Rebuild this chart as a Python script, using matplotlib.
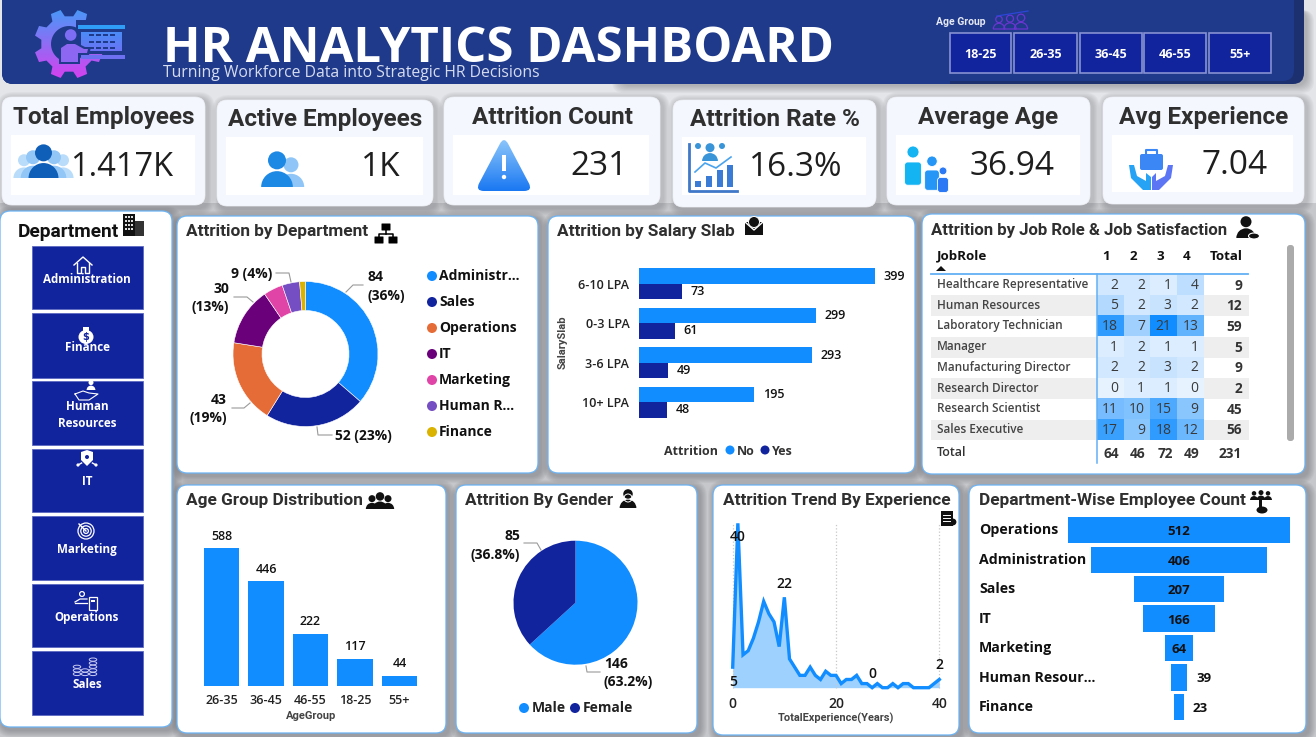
import numpy as np
import matplotlib
matplotlib.use("Agg")
import matplotlib.pyplot as plt
from matplotlib.colors import LinearSegmentedColormap
from matplotlib.patches import Circle, Ellipse, FancyBboxPatch, PathPatch, Polygon, Rectangle, Wedge
from matplotlib.path import Path

W, H = 1316, 737
BLUE = "#118dff"
NAVY = "#12239e"
HEADER = "#1f3a8a"
DARK = "#2f2f2f"
TITLE_FONT = ["Roboto", "DejaVu Sans"]
BODY_FONT = ["Open Sans", "DejaVu Sans"]

kpi_titles = ["Total Employees", "Active Employees", "Attrition Count", "Attrition Rate %", "Average Age", "Avg Experience"]
kpi_values = ["1.417K", "1K", "231", "16.3%", "36.94", "7.04"]
age_slicer = ["18-25", "26-35", "36-45", "46-55", "55+"]
dept_buttons = ["Administration", "Finance", "Human\nResources", "IT", "Marketing", "Operations", "Sales"]

dept_names = ["Administr...", "Sales", "Operations", "IT", "Marketing", "Human R...", "Finance"]
dept_attr = [84, 52, 43, 30, 10, 9, 3]
dept_colors = [BLUE, NAVY, "#e66c37", "#6b007b", "#e044a7", "#744ec2", "#d9b300"]

salary_slabs = ["6-10 LPA", "0-3 LPA", "3-6 LPA", "10+ LPA"]
salary_no = [399, 299, 293, 195]
salary_yes = [73, 61, 49, 48]

job_roles = ["Healthcare Representative", "Human Resources", "Laboratory Technician", "Manager",
             "Manufacturing Director", "Research Director", "Research Scientist", "Sales Executive"]
job_sat = np.array([[2, 2, 1, 4], [5, 2, 3, 2], [18, 7, 21, 13], [1, 2, 1, 1],
                    [2, 2, 3, 2], [0, 1, 1, 0], [11, 10, 15, 9], [17, 9, 18, 12]])
job_total = [9, 12, 59, 5, 9, 2, 45, 56]
sat_total = [64, 46, 72, 49]

age_groups = ["26-35", "36-45", "46-55", "18-25", "55+"]
age_counts = [588, 446, 222, 117, 44]

gender_names = ["Male", "Female"]
gender_counts = [146, 85]

exp_years = list(range(41))
exp_attr = [5, 40, 8, 9, 12, 16, 21, 18, 16, 10, 22, 7, 5, 3, 3, 5, 3, 2, 4, 3, 3,
            1, 2, 2, 3, 1, 1, 0, 1, 0, 0, 1, 0, 1, 1, 0, 0, 0, 0, 1, 2]

funnel_names = ["Operations", "Administration", "Sales", "IT", "Marketing", "Human Resour...", "Finance"]
funnel_counts = [512, 406, 207, 166, 64, 39, 23]


def px_axes(x0, y0, x1, y1):
    ax = fig.add_axes([x0 / W, 1 - y1 / H, (x1 - x0) / W, (y1 - y0) / H])
    ax.patch.set_alpha(0)
    return ax


def label(x, y, s, size, color=DARK, weight="normal", ha="center", va="center", font=BODY_FONT, **kw):
    return bg.text(x, y, s, fontsize=size, color=color, weight=weight, ha=ha, va=va, family=font, **kw)


def rbox(x0, y0, x1, y1, r, color, ec="none", lw=0, z=1, alpha=1):
    p = FancyBboxPatch((x0 + r, y0 + r), x1 - x0 - 2 * r, y1 - y0 - 2 * r, boxstyle=f"round,pad={r},rounding_size={r}",
                       fc=color, ec=ec, lw=lw, zorder=z, alpha=alpha)
    bg.add_patch(p)
    return p


def card(x0, y0, x1, y1, color="white", ec="#6cb3f4", r=10, lw=0.9, shade=0.06):
    for i in range(7, 0, -1):
        rbox(x0 + 2 - i, y0 + 2 - i, x1 + 3 + i, y1 + 3 + i, r + i, "#55565c", z=1, alpha=shade)
    rbox(x0, y0, x1, y1, r, color, ec=ec, lw=lw, z=2)


def gradient(path, top, bottom, z=5):
    x0, y0 = path.vertices.min(axis=0)
    x1, y1 = path.vertices.max(axis=0)
    cmap = LinearSegmentedColormap.from_list("g", [top, bottom])
    im = bg.imshow(np.linspace(0, 1, 64).reshape(-1, 1), cmap=cmap, extent=(x0, x1, y1, y0),
                   aspect="auto", zorder=z)
    im.set_clip_path(PathPatch(path, transform=bg.transData))
    bg.set_xlim(0, W)
    bg.set_ylim(H, 0)


def rounded(pts, r):
    pts = np.array(pts, float)
    verts, codes = [], []
    for i, p in enumerate(pts):
        a = p + (pts[i - 1] - p) / np.linalg.norm(pts[i - 1] - p) * r
        nxt = pts[(i + 1) % len(pts)]
        b = p + (nxt - p) / np.linalg.norm(nxt - p) * r
        verts += [a, p, b]
        codes += [Path.MOVETO if i == 0 else Path.LINETO, Path.CURVE3, Path.CURVE3]
    verts.append(verts[0])
    codes.append(Path.CLOSEPOLY)
    return Path(verts, codes)


def person(x, y, s, color, z=5, outline=False):
    # head and shoulders, y is the base of the figure
    fc = "none" if outline else color
    ec = color if outline else "none"
    bg.add_patch(Circle((x, y - s * 0.74), s * 0.25, fc=fc, ec=ec, lw=0.9, zorder=z))
    bg.add_patch(Wedge((x, y), s * 0.44, 180, 360, fc=fc, ec=ec, lw=0.9, zorder=z))


def standing(x, top, h, color, z=5):
    bg.add_patch(Circle((x, top + h * 0.15), h * 0.15, fc=color, ec="white", lw=0.6, zorder=z))
    w = h * 0.21
    bg.add_patch(FancyBboxPatch((x - w, top + h * 0.4), 2 * w, h * 0.58, boxstyle="round,pad=0,rounding_size=3",
                                fc=color, ec="white", lw=0.6, zorder=z))


def group(xs, y, sizes, colors, z=5):
    for i, (x, s, c) in enumerate(zip(xs, sizes, colors)):
        person(x, y, s, c, z + i)


def house(x, y, c="white"):
    bg.plot([x - 9, x, x + 9], [y, y - 8, y], color=c, lw=1, zorder=6)
    bg.plot([x - 6, x - 6, x - 2, x - 2, x + 2, x + 2, x + 6, x + 6],
            [y - 2, y + 8, y + 8, y + 2, y + 2, y + 8, y + 8, y - 2], color=c, lw=1, zorder=6)


def bag(x, y):
    bg.add_patch(Ellipse((x, y + 2), 15, 14, fc="white", zorder=6))
    bg.add_patch(Rectangle((x - 3, y - 8), 6, 5, fc="white", zorder=6))
    bg.text(x, y + 2, "$", color=NAVY, fontsize=7, weight="bold", ha="center", va="center", zorder=7)


def hand(x, y):
    person(x + 4, y - 2, 10, "white", 6)
    bg.plot([x - 12, x - 4, x + 2, x + 11, x + 2, x - 8, x - 12], [y + 2, y - 1, y + 1, y + 2, y + 8, y + 8, y + 2],
            color="white", lw=0.8, zorder=6)


def shield(x, y):
    bg.add_patch(Polygon([(x - 6, y - 8), (x, y - 10), (x + 6, y - 8), (x + 6, y), (x, y + 6), (x - 6, y)],
                         fc="white", zorder=6))
    bg.add_patch(Circle((x, y - 3), 2, fc=NAVY, zorder=7))
    for dx in (-9, 9):
        bg.plot([x + dx * 0.6, x + dx], [y + 3, y + 5], color="white", lw=1, zorder=6)
        bg.add_patch(Circle((x + dx, y + 5), 1.6, fc="white", zorder=6))


def target(x, y):
    for r in (8, 5.2, 2.4):
        bg.add_patch(Circle((x, y), r, fc="none", ec="white", lw=0.9, zorder=6))
    bg.plot([x - 7, x], [y - 7, y], color="white", lw=1, zorder=6)


def badge(x, y):
    bg.add_patch(Circle((x - 6, y - 7), 2.4, fc="none", ec="white", lw=0.9, zorder=6))
    bg.plot([x - 13, x - 8, x - 1], [y + 1, y - 2, y - 2], color="white", lw=0.9, zorder=6)
    bg.plot([x - 13, x - 1], [y + 2, y + 2], color="white", lw=0.9, zorder=6)
    bg.add_patch(Rectangle((x + 1, y - 4), 8, 13, fc="none", ec="white", lw=0.9, zorder=6))
    bg.add_patch(Rectangle((x + 3, y - 1), 4, 2, fc="white", zorder=6))


def coins(x, y):
    for dx, n in ((-8, 3), (0, 2), (8, 5)):
        for k in range(n):
            bg.add_patch(Ellipse((x + dx, y + 8 - k * 3.6), 7.5, 3.2, fc=NAVY, ec="#c8cdf0", lw=0.7, zorder=6 + k))


def building(x, y):
    bg.add_patch(Rectangle((x, y), 12, 22, fc="#111", zorder=6))
    bg.add_patch(Rectangle((x + 12, y + 7), 9, 15, fc="#333", zorder=6))
    for cx in (2, 5, 8):
        for cy in (2, 6, 10, 14):
            bg.add_patch(Rectangle((x + cx, y + cy), 2, 2, fc="#ddd", zorder=7))


def org(x, y):
    for bx, by in ((x + 7, y), (x, y + 13), (x + 14, y + 13)):
        bg.add_patch(FancyBboxPatch((bx, by), 8, 6, boxstyle="round,pad=0.5", fc="black", ec="none", zorder=6))
    bg.plot([x + 4, x + 4, x + 18, x + 18], [y + 13, y + 9.5, y + 9.5, y + 13], color="black", lw=1.1, zorder=6)
    bg.plot([x + 11, x + 11], [y + 6, y + 10], color="black", lw=1.1, zorder=6)


def gear_path(cx, cy, ro, ri, hole, n=8):
    pts = []
    for k in range(n):
        a = 2 * np.pi * k / n + np.pi / 8
        for da, r in ((-0.24, ri), (-0.15, ro), (0.15, ro), (0.24, ri)):
            pts.append((cx + r * np.cos(a + da), cy + r * np.sin(a + da)))
    pts.append(pts[0])
    t = np.linspace(2 * np.pi, 0, 50)
    hole_pts = np.column_stack([cx + hole * np.cos(t), cy + hole * np.sin(t)])
    verts = np.vstack([pts, hole_pts])
    codes = [Path.MOVETO] + [Path.LINETO] * (len(pts) - 2) + [Path.CLOSEPOLY]
    codes += [Path.MOVETO] + [Path.LINETO] * (len(hole_pts) - 2) + [Path.CLOSEPOLY]
    return Path(verts, codes)


fig = plt.figure(figsize=(W / 100, H / 100), dpi=100, facecolor="#e4e5e9")
bg = fig.add_axes([0, 0, 1, 1])
bg.set_xlim(0, W)
bg.set_ylim(H, 0)
bg.axis("off")
bg.add_patch(Rectangle((0, 203), W, H - 203, fc="#c6c7cb", ec="none", zorder=0))

# header
for i in range(8, 0, -1):
    rbox(620 - i, 10, 1306 + i, 85 + i, 12, "#55565c", z=1, alpha=0.05)
rbox(2, -15, 1304, 84, 11, "#1c2f6f", z=2)
rbox(2, -15, 1294, 81, 11, HEADER, z=2)
rbox(2, -15, 300, 84, 11, HEADER, z=2)
bg.add_patch(Rectangle((250, 0), 700, 84, fc=HEADER, zorder=2))
gradient(gear_path(69, 44, 35, 28, 18), "#4a97f8", "#d541f0")
bg.add_patch(Polygon([(76, 20), (104, 20), (104, 54), (76, 54)], fc=HEADER, zorder=6))
bg.add_patch(Rectangle((78, 25), 47, 4, fc="#2f9cf6", zorder=7))
bg.add_patch(Rectangle((81, 55), 44, 4, fc="#6e70f2", zorder=7))
gradient(Path([(81, 32), (122, 32), (122, 51), (81, 51), (81, 32)]), "#4a8cf8", "#6a73f4", z=7)
for cy in (34, 41, 47):
    for cx in (89, 96, 103, 110):
        bg.add_patch(Rectangle((cx, cy), 5, 2, fc=HEADER, zorder=8))
bg.add_patch(Circle((70.7, 35), 7.4, fc=HEADER, zorder=8))
bg.add_patch(Circle((70.7, 35), 5.8, fc="#7d6cf4", zorder=9))
bg.add_patch(Polygon([(59, 64), (59, 47), (66, 42), (75, 42), (85, 47), (91, 47), (89, 55), (80, 55), (80, 64)], fc=HEADER, zorder=8))
bg.add_patch(Polygon([(61, 62), (61, 48), (67, 44), (75, 44), (84, 49), (88, 49), (87, 53), (78, 53), (78, 62)], fc="#8d66f2", zorder=9))
label(163, 49, "HR ANALYTICS DASHBOARD", 35.4, "white", "bold", ha="left", zorder=9)
label(163, 73, "Turning Workforce Data into Strategic HR Decisions", 11.35, "#d6dcf0", ha="left", zorder=9)
label(936, 22, "Age Group", 7.5, "#e6e9f7", "bold", ha="left", font=TITLE_FONT, zorder=9)
for px, s in zip([999, 1010, 1021], [13, 14, 15]):
    person(px, 29, s, "#6a35d0", z=7, outline=True)
bg.plot([997, 1028], [16, 11], color="#2b47d8", lw=0.9, zorder=7)
slicer_x = [950, 1014, 1080, 1144, 1209]
slicer_w = [61, 63, 62, 62, 62]
for sx, sw, s in zip(slicer_x, slicer_w, age_slicer):
    bg.add_patch(Rectangle((sx, 33), sw, 40, fc=NAVY, ec="#8791d2", lw=1.2, zorder=4))
    label(sx + sw / 2, 54, s, 9, "white", "bold", zorder=6)

# kpi cards
kpi_box = [(2, 97, 205, 205), (217, 100, 433, 206), (444, 97, 660, 205), (673, 100, 876, 207), (887, 97, 1090, 205), (1103, 97, 1304, 204)]
kpi_inner = [(11, 135, 195, 195), (226, 137, 423, 195), (453, 135, 649, 195), (682, 137, 866, 195), (896, 135, 1080, 195), (1112, 135, 1293, 192)]
kpi_value_x = [122, 381, 599, 796, 1012, 1235]
kpi_value_y = [168, 168.5, 167.5, 168.5, 167, 166.5]
kpi_sizes = [23.5, 24, 24, 24, 24, 24]
for box, inner, t, v, vx, vy, vs in zip(kpi_box, kpi_inner, kpi_titles, kpi_values, kpi_value_x, kpi_value_y, kpi_sizes):
    card(*box, color="#f4f7fe", ec="#f0f2f8", r=10, lw=0.5, shade=0.045)
    bg.add_patch(Rectangle(inner[:2], inner[2] - inner[0], inner[3] - inner[1], fc="white", zorder=3))
    label((box[0] + box[2]) / 2, inner[1] - 18, t, 17.5, DARK, "bold", font=TITLE_FONT, zorder=5)
    label(vx, vy - 1, v, vs, "#1e1e1e", "medium", zorder=5)

group([24, 63, 33, 54, 43.5], 178, [24, 24, 28, 28, 34], ["#b9dcfb", "#b9dcfb", "#91c6f7", "#91c6f7", "#0f5fb8"])
group([291, 277], 187, [30, 36], ["#8fc6f7", "#1e88e5"])
gradient(rounded([(504, 136), (533, 191), (475, 191)], 9), "#93cbfb", "#1a78f2")
bg.add_patch(Rectangle((502.3, 155), 3.4, 16, fc="white", zorder=7))
bg.add_patch(Circle((504, 177), 2.2, fc="white", zorder=7))
bg.plot([689, 689, 737], [144, 191, 191], color="#3f78c8", lw=2, zorder=6)
bars_x, bars_h = [695, 706, 717, 727], [6, 11, 17, 22]
for bx, bh in zip(bars_x, bars_h):
    bg.add_patch(Rectangle((bx, 187 - bh), 6, bh, fc="#3a7bd5", zorder=6))
bg.plot([695, 705, 716, 731], [172, 163, 168, 157], color="#4aa3ee", lw=1.2, zorder=6)
person(710, 161, 18, "#3a94d8", 6)
bg.add_patch(Circle((698, 146), 3, fc="#3a94d8", zorder=6))
bg.add_patch(Circle((722, 146), 3, fc="#3a94d8", zorder=6))
standing(913, 146, 40, "#14b3f2", 6)
standing(932, 156, 35, "#2596f5", 7)
standing(943, 167, 26, "#2b79f5", 8)
bg.add_patch(FancyBboxPatch((1140, 154), 23, 16, boxstyle="round,pad=0,rounding_size=2", fc="#3b87f5", ec="none", zorder=6))
bg.plot([1146, 1146, 1157, 1157], [154, 150, 150, 154], color="#3b87f5", lw=1.5, zorder=6)
bg.add_patch(Polygon([(1129, 165), (1134, 165), (1137, 176), (1146, 181), (1146, 173), (1151, 177), (1151, 190), (1143, 190), (1131, 178)], fc="#27a3f5", zorder=6))
bg.add_patch(Polygon([(1173, 165), (1168, 165), (1165, 176), (1156, 181), (1156, 173), (1152, 177), (1152, 190), (1159, 190), (1171, 178)], fc="#5b75f5", zorder=6))

# chart cards
card(0, 211, 172, 727)
card(177, 216, 538, 473)
card(548, 216, 915, 473)
card(922, 214, 1305, 474)
card(177, 485, 446, 733)
card(456, 485, 697, 733)
card(713, 485, 959, 735)
card(969, 485, 1306, 733)

# department buttons
button_y = [(246, 309), (313, 378), (381, 445), (449, 512), (516, 580), (584, 647), (651, 715)]
text_y = [279, 347, 415, 481, 550, 618, 685]
for (y0, y1), s, ty in zip(button_y, dept_buttons, text_y):
    bg.add_patch(Rectangle((32, y0), 111, y1 - y0, fc=NAVY, ec="#5c69c0", lw=0.6, zorder=4))
    label(87, ty, s, 8.4, "white", "bold", zorder=7, linespacing=1.45)
label(68, 232, "Department", 13.8, "#111", "bold", font=TITLE_FONT, zorder=5)
house(83, 265)
bag(86, 335)
hand(87, 392)
shield(87, 460)
target(86, 531)
badge(88, 601)
coins(85, 666)

title_y = 231
title_kw = dict(size=12.4, color=DARK, weight="bold", ha="left", font=TITLE_FONT, zorder=5)
label(186, title_y, "Attrition by Department", **title_kw)
label(557, title_y, "Attrition by Salary Slab", **title_kw)
label(931, title_y - 1, "Attrition by Job Role & Job Satisfaction", **{**title_kw, "size": 12.1})
label(186, 500, "Age Group Distribution", **title_kw)
label(465, 500, "Attrition By Gender", **title_kw)
label(723, 500, "Attrition Trend By Experience", **title_kw)
label(979, 500, "Department-Wise Employee Count", **title_kw)
org(375, 224)
bg.add_patch(Rectangle((745, 222), 18, 13, fc="#111", zorder=6))
bg.plot([745, 754, 763], [222, 230, 222], color="white", lw=1, zorder=7)
bg.add_patch(Circle((754, 222), 5.5, fc="#111", ec="white", lw=0.7, zorder=7))
person(1246, 238, 22, "#111")
bg.add_patch(Ellipse((1254, 236), 11, 6, fc="#111", ec="white", lw=0.8, zorder=7))
group([372, 388, 380], 509, [14, 14, 17], ["#111"] * 3)
person(628, 508, 19, "#111")
bg.add_patch(Circle((628, 498), 4, fc="none", ec="white", lw=0.7, zorder=7))
building(123, 214)
bg.add_patch(Rectangle((941, 511), 12, 15, fc="#111", zorder=6))
bg.add_patch(Circle((953, 522), 3.4, fc="#111", zorder=7))
for ly in (515, 518, 521):
    bg.plot([943, 950], [ly, ly], color="white", lw=0.7, zorder=7)
group([1254, 1268, 1261], 500, [9, 9, 10], ["#111"] * 3)
bg.add_patch(Rectangle((1259, 500), 3, 8, fc="#111", zorder=6))
bg.add_patch(Ellipse((1262, 510), 11, 7, fc="#111", zorder=6))

# donut
ax = px_axes(233, 281.5, 378, 426.5)
ax.pie(dept_attr, colors=dept_colors, startangle=90, counterclock=False, radius=1,
       wedgeprops={"width": 0.4, "edgecolor": "white", "linewidth": 0.4})
ax.set_xlim(-1, 1)
ax.set_ylim(-1, 1)
total = sum(dept_attr)
pos_lines = [[(346, 292), (353, 285), (363, 285)], [(317, 427), (318, 435), (332, 435)], [(250, 403), (244, 408), (232, 408)],
             [(253, 302), (247, 297), (234, 297)], [(291, 282), (289, 273), (276, 273)]]
for ln in pos_lines:
    bg.plot(*zip(*ln), color="#9a9a9a", lw=0.8, zorder=5)
pcts = [f"({v / total:.0%})" for v in dept_attr]
label(367, 277, dept_attr[0], 10, "#111", "bold", ha="left", zorder=6)
label(367, 296, pcts[0], 10, "#111", "bold", ha="left", zorder=6)
label(335, 436, f"{dept_attr[1]} {pcts[1]}", 10, "#111", "bold", ha="left", zorder=6)
label(227, 400, dept_attr[2], 10, "#111", "bold", ha="right", zorder=6)
label(227, 418, pcts[2], 10, "#111", "bold", ha="right", zorder=6)
label(229, 289, dept_attr[3], 10, "#111", "bold", ha="right", zorder=6)
label(229, 307, pcts[3], 10, "#111", "bold", ha="right", zorder=6)
label(272, 274, f"{dept_attr[5]} {pcts[5]}", 10, "#111", "bold", ha="right", zorder=6)
for i, (n, c) in enumerate(zip(dept_names, dept_colors)):
    ly = 276 + 26 * i
    bg.add_patch(Circle((432, ly), 5, fc=c, zorder=6))
    label(439, ly, n, 10, "#111", "bold", ha="left", zorder=6)

# salary bars
ax = px_axes(639, 264, 905, 422)
ys = np.arange(len(salary_slabs))
bars1 = ax.barh(ys - 0.195, salary_no, height=0.39, color=BLUE)
bars2 = ax.barh(ys + 0.195, salary_yes, height=0.39, color=NAVY)
ax.bar_label(bars1, padding=6, fontsize=9, weight="semibold", family=BODY_FONT, color="#111")
ax.bar_label(bars2, padding=6, fontsize=9, weight="semibold", family=BODY_FONT, color="#111")
ax.set_xlim(0, 450)
ax.set_ylim(3.5, -0.5)
ax.set_yticks(ys, salary_slabs, fontsize=9, weight="semibold", family=BODY_FONT, color="#222")
ax.set_xticks([])
ax.tick_params(length=0, pad=7)
for s in ax.spines.values():
    s.set_visible(False)
label(563, 342, "SalarySlab", 8, "#444", "bold", rotation=90, font=TITLE_FONT, zorder=6)
label(691, 451, "Attrition", 9, "#333", "bold", zorder=6)
bg.add_patch(Circle((730, 450), 4.5, fc=BLUE, zorder=6))
label(737, 451, "No", 9, "#333", "bold", ha="left", zorder=6)
bg.add_patch(Circle((765, 450), 4.5, fc=NAVY, zorder=6))
label(772, 451, "Yes", 9, "#333", "bold", ha="left", zorder=6)

# job role table
for r in (1, 3, 5, 7):
    bg.add_patch(Rectangle((931, 274.7 + 20.7 * r), 318, 20.7, fc="#eeeeee", zorder=3))
ax = px_axes(1097, 274.7, 1204, 440.5)
heat = LinearSegmentedColormap.from_list("heat", ["#e6f2fe", BLUE])
ax.imshow(job_sat, cmap=heat, vmin=0, vmax=21, aspect="auto", zorder=1)
ax.set_xticks([])
ax.set_yticks([])
for s in ax.spines.values():
    s.set_visible(False)
for r, row in enumerate(job_sat):
    for c, v in enumerate(row):
        ax.text(c + 0.29, r, v, ha="right", va="center", fontsize=10, family=BODY_FONT, color="#3a3a3a")
col_x = [1106, 1133, 1160, 1187]
label(937, 256, "JobRole", 9.6, "#111", "bold", ha="left", zorder=6)
bg.add_patch(Polygon([(936, 271), (946, 271), (941, 266)], fc="#111", zorder=6))
for c, x in enumerate(col_x):
    label(x, 256, c + 1, 9.6, "#111", "bold", zorder=6)
    label(x + 5, 454, sat_total[c], 9.8, "#333", "bold", ha="center", zorder=6)
label(1226, 256, "Total", 9.6, "#111", "bold", zorder=6)
label(1242, 454, sum(sat_total), 9.8, "#333", "bold", ha="right", zorder=6)
label(937, 452, "Total", 9, "#333", "semibold", ha="left", zorder=6)
for r, (n, t) in enumerate(zip(job_roles, job_total)):
    label(937, 284.5 + 20.7 * r, n, 8.5, "#444", "semibold", ha="left", zorder=6)
    label(1242, 285.5 + 20.7 * r, t, 9.8, "#333", "bold", ha="right", zorder=6)
bg.plot([931, 1248], [274, 274], color="#62b0f5", lw=1.3, zorder=7)
fig.add_artist(plt.Line2D([1096.5 / W, 1096.5 / W], [1 - 274 / H, 1 - 463 / H], color="#62b0f5", lw=1.1))
rbox(1287, 245, 1294, 441, 3, "#ababab", z=5)

# age column chart
ax = px_axes(199.25, 536, 421.75, 686)
xs = np.arange(len(age_groups))
bars = ax.bar(xs, age_counts, width=0.79, color=BLUE)
ax.bar_label(bars, padding=4, fontsize=9, weight="semibold", family=BODY_FONT, color="#111")
ax.set_xlim(-0.5, 4.5)
ax.set_ylim(0, 640)
ax.set_xticks(xs, age_groups, fontsize=9, weight="semibold", family=BODY_FONT, color="#222")
ax.set_yticks([])
ax.tick_params(length=0, pad=6)
for s in ax.spines.values():
    s.set_visible(False)
label(311, 716, "AgeGroup", 8, "#444", "bold", font=TITLE_FONT, zorder=6)

# gender pie
ax = px_axes(513.5, 540.7, 637.5, 664.7)
ax.pie(gender_counts, colors=[BLUE, NAVY], startangle=90, counterclock=False, radius=1)
ax.set_xlim(-1, 1)
ax.set_ylim(-1, 1)
gender_pct = [f"({v / sum(gender_counts):.1%})" for v in gender_counts]
label(520, 535.5, gender_counts[1], 10, "#111", "bold", ha="right", zorder=6)
label(520, 555, gender_pct[1], 10, "#111", "bold", ha="right", zorder=6)
label(604, 664, gender_counts[0], 10, "#111", "bold", ha="left", zorder=6)
label(604, 682, gender_pct[0], 10, "#111", "bold", ha="left", zorder=6)
bg.plot([524, 537, 541], [543, 543, 550], color="#9a9a9a", lw=0.8, zorder=6)
bg.plot([586, 587, 600], [666, 672, 672], color="#9a9a9a", lw=0.8, zorder=6)
bg.add_patch(Circle((524, 708), 5, fc=BLUE, zorder=6))
label(532, 708, gender_names[0], 10, "#222", "bold", ha="left", zorder=6)
bg.add_patch(Circle((575, 708), 5, fc=NAVY, zorder=6))
label(583, 708, gender_names[1], 10, "#222", "bold", ha="left", zorder=6)

# experience area
ax = px_axes(732.7, 523.3, 939.3, 687.7)
ax.fill_between(exp_years, exp_attr, color=BLUE, alpha=0.4, lw=0)
ax.plot(exp_years, exp_attr, color=BLUE, lw=2.4, clip_on=False, solid_joinstyle="miter")
ax.set_xlim(0, 40)
ax.set_ylim(0, 40)
ax.set_xticks([0, 20, 40])
ax.set_yticks([])
ax.tick_params(length=0, labelsize=10, pad=7, labelcolor="#222")
for t in ax.get_xticklabels():
    t.set_family(BODY_FONT)
    t.set_weight("semibold")
ax.grid(axis="x", color="#c8c8c8", ls=":", lw=0.9, zorder=0)
for gl in ax.get_xgridlines():
    gl.set_clip_on(False)
for s in ax.spines.values():
    s.set_visible(False)
for yr, off in ((0, -15), (1, -14), (10, 13), (27, 14), (40, 14)):
    ax.annotate(exp_attr[yr], (yr, exp_attr[yr]), xytext=(0, off), textcoords="offset pixels", ha="center", va="center",
                fontsize=10, weight="semibold", family=BODY_FONT, color="#111", annotation_clip=False)
label(836, 718, "TotalExperience(Years)", 7.9, "#444", "bold", font=TITLE_FONT, zorder=6)

# funnel
ax = px_axes(1068, 515.5, 1290, 721.7)
ys = np.arange(len(funnel_names))
ax.barh(ys, funnel_counts, left=[-v / 2 for v in funnel_counts], height=0.89, color=BLUE)
ax.set_xlim(-256, 256)
ax.set_ylim(6.5, -0.5)
ax.axis("off")
for i, (n, v) in enumerate(zip(funnel_names, funnel_counts)):
    ax.text(-0.40, i, n, transform=ax.get_yaxis_transform(), ha="left", va="center", fontsize=10.2, weight="bold",
            family=BODY_FONT, color="#111", clip_on=False)
    inside = v > 50
    ax.text(0 if inside else v / 2 + 19.6, i + 0.05, v, ha="center" if inside else "left", va="center", fontsize=9.5,
            weight="bold", family=BODY_FONT, color="#111")

fig.savefig("out.png", dpi=100)
